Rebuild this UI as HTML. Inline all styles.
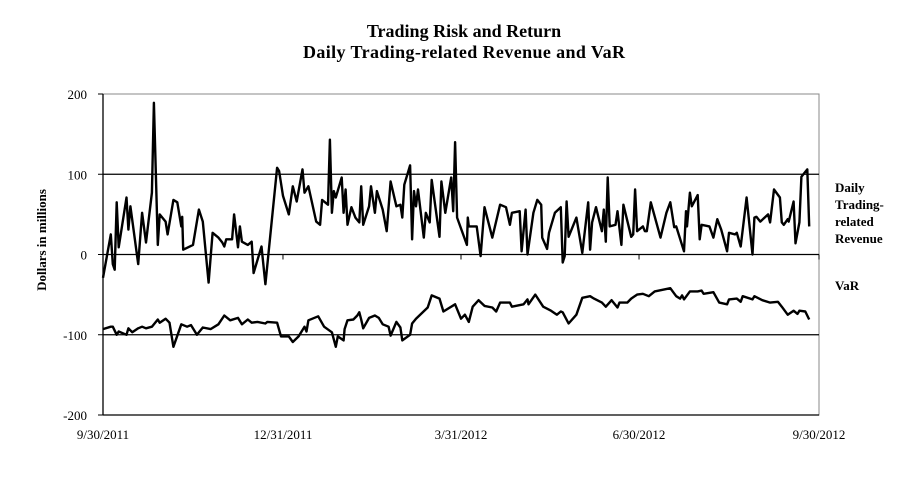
<!DOCTYPE html>
<html><head><meta charset="utf-8"><style>
body{margin:0;background:#fff;width:905px;height:495px;overflow:hidden;font-family:"Liberation Serif",serif}
</style></head><body>
<svg width="905" height="495" xmlns="http://www.w3.org/2000/svg" font-family="Liberation Serif, serif">
<text x="464" y="37" text-anchor="middle" font-size="18" font-weight="bold">Trading Risk and Return</text>
<text x="464" y="58" text-anchor="middle" font-size="18" font-weight="bold" textLength="322">Daily Trading-related Revenue and VaR</text>
<text transform="translate(46,240) rotate(-90)" text-anchor="middle" font-size="13" font-weight="bold">Dollars in millions</text>
<g id="axes"></g>
<g id="series"></g>
<g font-size="13" font-weight="bold">
<text x="835" y="192">Daily</text>
<text x="835" y="209">Trading-</text>
<text x="835" y="226">related</text>
<text x="835" y="243">Revenue</text>
<text x="835" y="290">VaR</text>
</g>
</svg>
<script>
const yTicks=[200,100,0,-100,-200];
const xTickDays=[0,92,183,274,366];
const xTickLabels=["9/30/2011","12/31/2011","3/31/2012","6/30/2012","9/30/2012"];
const revDays=[0,4,5,6,7,8,12,13,14,18,20,22,25,26,28,29,32,33,36,38,40,40.5,41,46,49,51,54,56,59,61,62,63,66,67,69,70,71,74,76,77,81,83,89,90,92,95,97,99,102,103,105,109,111,112,115,116,117,118,119,122,123,124,125,127,129,131,132,133,136,137,139,140,143,145,147,150,152,153,154,157,158,159,160,161,164,165,167,168,172,173,175,178,179,180,181,186,186.5,187,191,193,195,199,203,206,208,209,213,214,216,217,220,222,224,224.5,227,228,231,234,235,236,237,238,242,245,248,249,250,252,255,256,257,258,259,262,263,265,266,270,271,272,273,276,277,278,280,285,288,290,292,293,297,298,298.5,300,301,304,305,306,310,312,314,316,319,320,323,324,326,329,332,333,334,336,340,341,343,346,347,348,350,350.5,353,354,356,357,360,361];
const revValues=[-29,25,-12,-19,65,9,71,31,60,-12,52,15,77,189,12,50,41,25,68,65,35,47,6,12,56,41,-35,27,21,15,10,19,19,50,9,35,16,12,16,-23,10,-37,108,104,73,50,85,66,106,77,85,41,37,68,62,143,52,79,71,96,52,81,37,59,46,40,85,37,60,85,52,79,56,29,91,60,62,46,87,111,19,79,60,81,21,52,40,93,22,91,52,96,54,140,46,12,46,35,35,-2,59,21,62,59,37,52,54,4,56,0,52,68,62,21,7,27,52,59,-10,-2,66,22,46,2,65,6,40,59,29,56,16,96,35,37,54,12,62,22,25,81,29,35,29,29,65,21,52,65,34,35,4,54,35,77,60,74,19,37,35,21,44,31,4,27,25,27,10,71,0,46,47,41,50,40,81,71,40,37,44,41,66,14,40,97,106,35];
const varDays=[0,4,5,7,8,12,13,15,18,20,22,25,28,29,32,34,36,40,43,45,48,51,55,59,62,65,69,71,74,76,79,83,84,89,91,95,97,100,103,104,105,110,113,117,119,120,123,123.5,125,128,130,131,132,133,136,139,141,143,146,147,150,152,153,157,158,160,166,168,172,174,180,183,185,187,189,192,195,199,201,203,208,209,215,217,217.5,221,225,229,232,234,235,238,242,245,249,251,255,257,260,263,264,268,270,273,276,279,282,286,290,293,295,296,297,300,304,306,307,312,315,319,320,324,326,327,332,333,337,341,345,347,350,353,355,356,359,361];
const varValues=[-93,-90,-90,-100,-96,-100,-92,-97,-92,-90,-92,-90,-81,-85,-80,-85,-115,-87,-90,-88,-100,-91,-93,-87,-76,-82,-79,-87,-81,-85,-84,-86,-84,-85,-102,-102,-109,-102,-90,-96,-82,-77,-90,-97,-115,-102,-107,-93,-82,-81,-76,-72,-81,-92,-79,-76,-79,-87,-90,-101,-84,-91,-107,-100,-86,-80,-66,-51,-55,-71,-62,-80,-75,-84,-65,-57,-64,-66,-71,-60,-60,-65,-62,-56,-62,-50,-65,-70,-75,-71,-72,-86,-75,-54,-52,-55,-60,-65,-57,-66,-60,-60,-55,-50,-49,-52,-46,-44,-42,-52,-55,-51,-56,-46,-46,-45,-49,-47,-60,-62,-56,-55,-59,-52,-56,-52,-57,-60,-59,-65,-75,-70,-74,-70,-71,-81];

const NS="http://www.w3.org/2000/svg";
const L=103,R=819,T=94,B=415;
const xS=d=>L+(d/366)*(R-L);
const yS=v=>T+(200-v)/400*(B-T);
const axes=document.getElementById('axes'),ser=document.getElementById('series');
function mk(tag,attrs,parent){const e=document.createElementNS(NS,tag);for(const k in attrs)e.setAttribute(k,attrs[k]);parent.appendChild(e);return e;}
const frame=mk('rect',{x:L,y:T,width:R-L,height:B-T,fill:'none',stroke:'#888','stroke-width':1},axes);


yTicks.forEach(v=>{
  if(v!==200){const g=mk('line',{x1:L,x2:R,y1:yS(v),y2:yS(v),stroke:'#000','stroke-width':1.3},axes);
  
  }
  const tk=mk('line',{x1:L-5,x2:L,y1:yS(v),y2:yS(v),stroke:'#000'},axes);
  
  
  const t=mk('text',{x:L-16,y:yS(v)+5,'text-anchor':'end','font-size':13},axes);
  t.textContent=v;
  
  
});
const ya=mk('line',{x1:L,x2:L,y1:T,y2:B,stroke:'#000','stroke-width':1.3},axes);


xTickDays.forEach((d,i)=>{
  const tk=mk('line',{x1:xS(d),x2:xS(d),y1:yS(0),y2:yS(0)+5,stroke:'#000'},axes);
  
  
  const t=mk('text',{x:xS(d),y:439,'text-anchor':'middle','font-size':13},axes);
  t.textContent=xTickLabels[i];
  
  
});
function line(days,vals,name){
  const p=mk('polyline',{points:days.map((d,i)=>xS(d).toFixed(1)+','+yS(vals[i]).toFixed(1)).join(' '),fill:'none',stroke:'#000','stroke-width':2.4,'stroke-linejoin':'round'},ser);
  
  
}
line(revDays,revValues,'revenue-line');
line(varDays,varValues,'var-line');
</script>
</body></html>
